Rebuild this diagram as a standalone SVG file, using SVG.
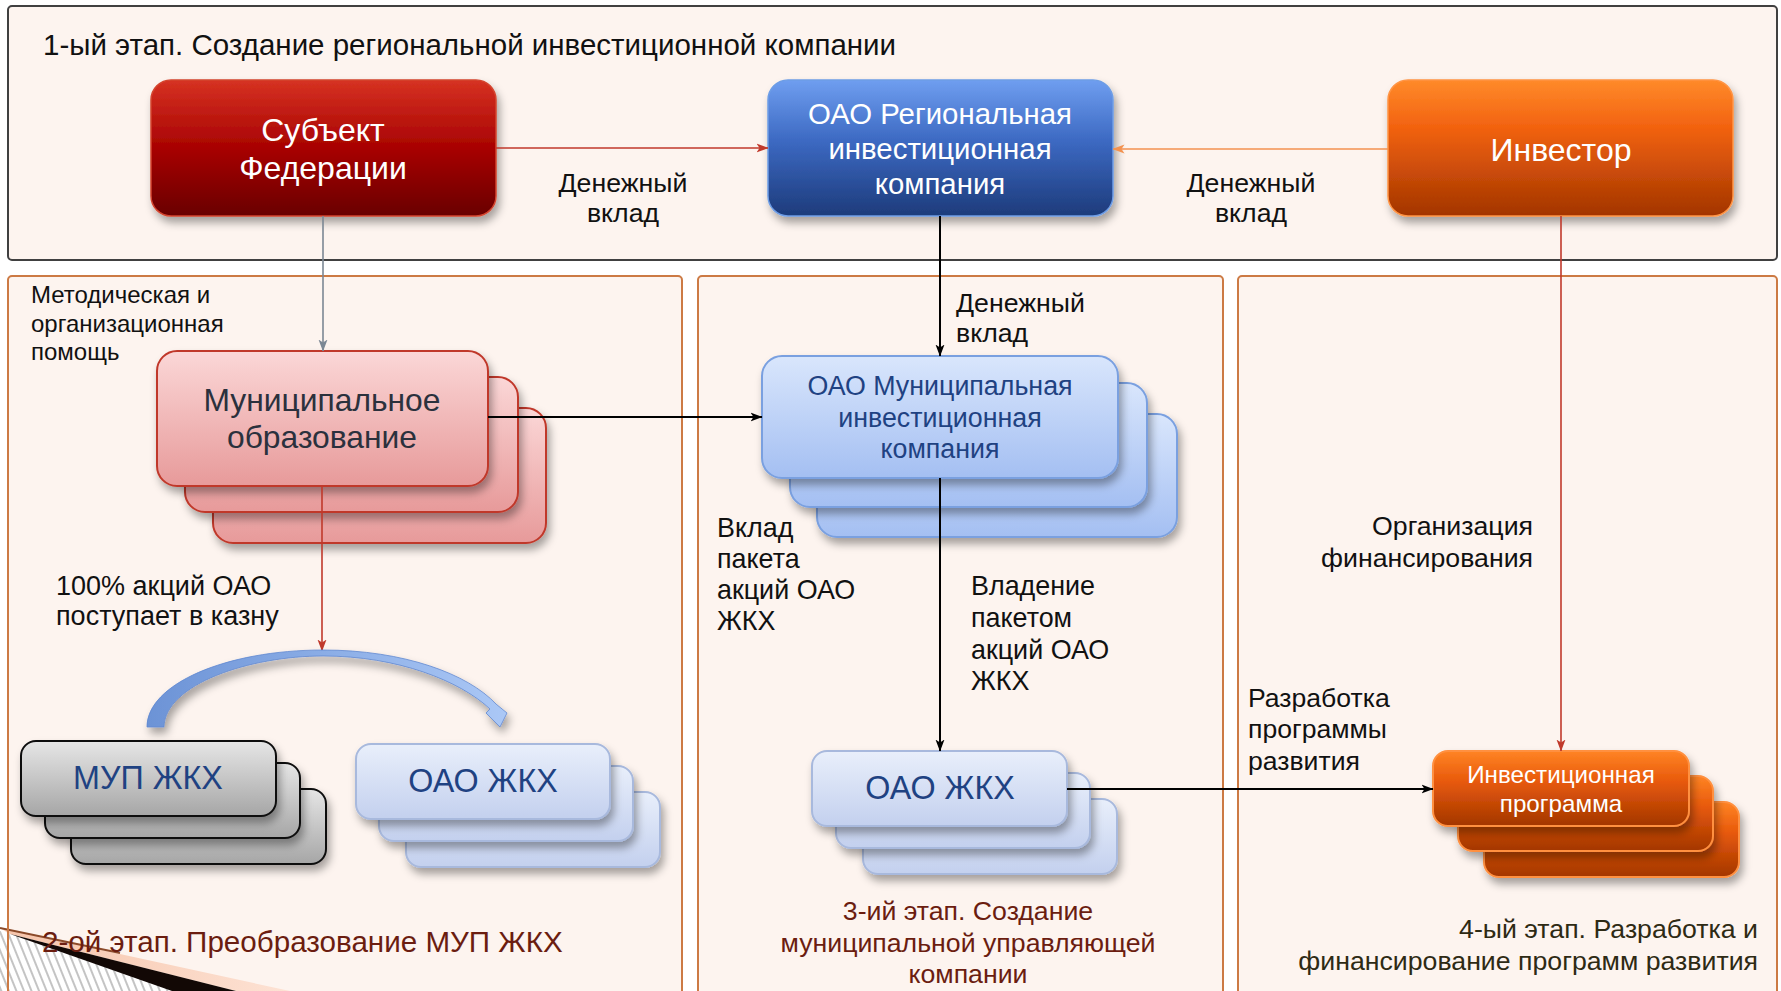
<svg xmlns="http://www.w3.org/2000/svg" width="1781" height="991" viewBox="0 0 1781 991">
<defs>
<style>
text{font-family:"Liberation Sans",Arial,sans-serif;fill:#111}
.panelTop{fill:#fdf4ef;stroke:#404040;stroke-width:2}
.panel{fill:#fdf4ef;stroke:#cc7a44;stroke-width:2}
.w{fill:#fff}
.dk{fill:#1f4282}
.mun{fill:#2b313d}
.stage{fill:#6b1d10}
.stage4{fill:#2e2a14}
.conn{fill:none}
</style>
<linearGradient id="gRed" x1="0" y1="0" x2="0" y2="1"><stop offset="0" stop-color="#d63222"/><stop offset="0.5" stop-color="#a80302"/><stop offset="1" stop-color="#690000"/></linearGradient>
<linearGradient id="gBlue" x1="0" y1="0" x2="0" y2="1"><stop offset="0" stop-color="#6f9ef0"/><stop offset="0.45" stop-color="#3c69c2"/><stop offset="1" stop-color="#1d3b7b"/></linearGradient>
<linearGradient id="gOr" x1="0" y1="0" x2="0" y2="1"><stop offset="0" stop-color="#ff8a2a"/><stop offset="0.35" stop-color="#f26210"/><stop offset="1" stop-color="#a33500"/></linearGradient>
<linearGradient id="gPink" x1="0" y1="0" x2="0" y2="1"><stop offset="0" stop-color="#fbd7d7"/><stop offset="1" stop-color="#e79a9a"/></linearGradient>
<linearGradient id="gLB" x1="0" y1="0" x2="0" y2="1"><stop offset="0" stop-color="#d9e6fc"/><stop offset="1" stop-color="#a4bff2"/></linearGradient>
<linearGradient id="gPB" x1="0" y1="0" x2="0" y2="1"><stop offset="0" stop-color="#e9effb"/><stop offset="1" stop-color="#c3d0ee"/></linearGradient>
<linearGradient id="gGray" x1="0" y1="0" x2="0" y2="1"><stop offset="0" stop-color="#e6e6e6"/><stop offset="1" stop-color="#a6a6a6"/></linearGradient>
<linearGradient id="gOr2" x1="0" y1="0" x2="0" y2="1"><stop offset="0" stop-color="#ff8424"/><stop offset="0.4" stop-color="#e85a0c"/><stop offset="1" stop-color="#a33600"/></linearGradient>
<linearGradient id="gArc" x1="0" y1="0" x2="1" y2="0"><stop offset="0" stop-color="#6c93d6"/><stop offset="1" stop-color="#abc8f6"/></linearGradient>
<linearGradient id="gPeach" x1="0" y1="0" x2="1" y2="0"><stop offset="0" stop-color="#f6c4aa"/><stop offset="1" stop-color="#fde2d4"/></linearGradient>
<pattern id="hatch" width="7" height="7" patternUnits="userSpaceOnUse" patternTransform="rotate(-22)"><rect width="7" height="7" fill="#fff"/><line x1="1" y1="0" x2="1" y2="7" stroke="#8a8a8a" stroke-width="1"/></pattern>
<filter id="sh" x="-10%" y="-10%" width="130%" height="140%"><feDropShadow dx="3" dy="6" stdDeviation="4" flood-color="#000" flood-opacity="0.35"/></filter>
<marker id="aRed" viewBox="0 0 12 10" refX="11.5" refY="5" markerWidth="12" markerHeight="10" markerUnits="userSpaceOnUse" orient="auto"><path d="M0,0.5 L12,5 L0,9.5 L3,5 Z" fill="#c0392b"/></marker>
<marker id="aOr" viewBox="0 0 12 10" refX="11.5" refY="5" markerWidth="12" markerHeight="10" markerUnits="userSpaceOnUse" orient="auto"><path d="M0,0.5 L12,5 L0,9.5 L3,5 Z" fill="#f39250"/></marker>
<marker id="aBlk" viewBox="0 0 12 10" refX="11.5" refY="5" markerWidth="12" markerHeight="10" markerUnits="userSpaceOnUse" orient="auto"><path d="M0,0.5 L12,5 L0,9.5 L3,5 Z" fill="#000"/></marker>
<marker id="aGray" viewBox="0 0 12 10" refX="11.5" refY="5" markerWidth="12" markerHeight="10" markerUnits="userSpaceOnUse" orient="auto"><path d="M0,0.5 L12,5 L0,9.5 L3,5 Z" fill="#7b8794"/></marker>
</defs>
<rect width="1781" height="991" fill="#fff"/>

<g id="panel1">
<rect class="panelTop" x="8" y="6" width="1769" height="254" rx="4"/>
<text x="43" y="55" font-size="29.5">1-ый этап. Создание региональной инвестиционной компании</text>
</g>
<g id="panel2">
<rect class="panel" x="8" y="276" width="674" height="740" rx="4"/>
</g>
<g id="panel3">
<rect class="panel" x="698" y="276" width="525" height="740" rx="4"/>
</g>
<g id="panel4">
<rect class="panel" x="1238" y="276" width="539" height="740" rx="4"/>
</g>

<g id="decoration">
<path d="M0,931 L40,940 L178,991 L0,991 Z" fill="url(#hatch)"/>
<path d="M0,928 L290,991 L236,991 L10,934 Z" fill="url(#gPeach)"/>
<path d="M10,934 L236,991 L172,991 Z" fill="#120805"/>
<path d="M0,928 L120,953" stroke="#8b4a2a" stroke-width="2"/>
<line x1="8" y1="925" x2="8" y2="991" stroke="#cc7a44" stroke-width="2"/>
</g>

<g id="subject">
<rect x="151" y="80" width="345" height="136" rx="20" fill="url(#gRed)" stroke="#d4442f" stroke-width="1.5" filter="url(#sh)"/>
<text class="w" x="323" y="141" font-size="32" text-anchor="middle">Субъект</text>
<text class="w" x="323" y="179" font-size="32" text-anchor="middle">Федерации</text>
</g>
<g id="regional">
<rect x="768" y="80" width="345" height="136" rx="20" fill="url(#gBlue)" stroke="#6d9de6" stroke-width="1.5" filter="url(#sh)"/>
<text class="w" x="940" y="124" font-size="29.4" text-anchor="middle">ОАО Региональная</text>
<text class="w" x="940" y="159" font-size="29.4" text-anchor="middle">инвестиционная</text>
<text class="w" x="940" y="194" font-size="29.4" text-anchor="middle">компания</text>
</g>
<g id="investor">
<rect x="1388" y="80" width="345" height="136" rx="20" fill="url(#gOr)" stroke="#ff9444" stroke-width="1.5" filter="url(#sh)"/>
<text class="w" x="1561" y="161" font-size="32" text-anchor="middle">Инвестор</text>
</g>

<g id="municipal">
<rect x="213" y="408" width="333" height="135" rx="20" fill="url(#gPink)" stroke="#c0392b" stroke-width="2" filter="url(#sh)"/>
<rect x="185" y="377" width="333" height="135" rx="20" fill="url(#gPink)" stroke="#c0392b" stroke-width="2" filter="url(#sh)"/>
<rect x="157" y="351" width="331" height="135" rx="20" fill="url(#gPink)" stroke="#c0392b" stroke-width="2" filter="url(#sh)"/>
<text class="mun" x="322" y="411" font-size="31.8" text-anchor="middle">Муниципальное</text>
<text class="mun" x="322" y="448" font-size="31.8" text-anchor="middle">образование</text>
</g>

<g id="munInvest">
<rect x="817" y="414" width="360" height="123" rx="20" fill="url(#gLB)" stroke="#7aa0e0" stroke-width="2" filter="url(#sh)"/>
<rect x="790" y="383" width="357" height="124" rx="20" fill="url(#gLB)" stroke="#7aa0e0" stroke-width="2" filter="url(#sh)"/>
<rect x="762" y="356" width="356" height="122" rx="20" fill="url(#gLB)" stroke="#7aa0e0" stroke-width="2" filter="url(#sh)"/>
<text class="dk" x="940" y="395" font-size="26.8" text-anchor="middle">ОАО Муниципальная</text>
<text class="dk" x="940" y="427" font-size="26.8" text-anchor="middle">инвестиционная</text>
<text class="dk" x="940" y="458" font-size="26.8" text-anchor="middle">компания</text>
</g>

<g id="mupZhkh">
<rect x="71" y="789" width="255" height="75" rx="15" fill="url(#gGray)" stroke="#111" stroke-width="2" filter="url(#sh)"/>
<rect x="45" y="763" width="255" height="75" rx="15" fill="url(#gGray)" stroke="#111" stroke-width="2" filter="url(#sh)"/>
<rect x="21" y="741" width="255" height="75" rx="15" fill="url(#gGray)" stroke="#111" stroke-width="2" filter="url(#sh)"/>
<text class="dk" x="148" y="789" font-size="32.3" text-anchor="middle">МУП ЖКХ</text>
</g>

<g id="oaoZhkh1">
<rect x="406" y="792" width="254" height="75" rx="15" fill="url(#gPB)" stroke="#a8b9dd" stroke-width="2" filter="url(#sh)"/>
<rect x="379" y="766" width="254" height="75" rx="15" fill="url(#gPB)" stroke="#a8b9dd" stroke-width="2" filter="url(#sh)"/>
<rect x="356" y="744" width="254" height="75" rx="15" fill="url(#gPB)" stroke="#a8b9dd" stroke-width="2" filter="url(#sh)"/>
<text class="dk" x="483" y="792" font-size="32.3" text-anchor="middle">ОАО ЖКХ</text>
</g>

<g id="oaoZhkh2">
<rect x="863" y="799" width="254" height="75" rx="15" fill="url(#gPB)" stroke="#a8b9dd" stroke-width="2" filter="url(#sh)"/>
<rect x="836" y="773" width="254" height="75" rx="15" fill="url(#gPB)" stroke="#a8b9dd" stroke-width="2" filter="url(#sh)"/>
<rect x="812" y="751" width="255" height="75" rx="15" fill="url(#gPB)" stroke="#a8b9dd" stroke-width="2" filter="url(#sh)"/>
<text class="dk" x="940" y="799" font-size="32.3" text-anchor="middle">ОАО ЖКХ</text>
</g>

<g id="investProgram">
<rect x="1484" y="802" width="255" height="75" rx="15" fill="url(#gOr2)" stroke="#ff9040" stroke-width="2" filter="url(#sh)"/>
<rect x="1458" y="776" width="255" height="75" rx="15" fill="url(#gOr2)" stroke="#ff9040" stroke-width="2" filter="url(#sh)"/>
<rect x="1433" y="751" width="256" height="75" rx="15" fill="url(#gOr2)" stroke="#ff9040" stroke-width="2" filter="url(#sh)"/>
<text class="w" x="1561" y="783" font-size="24.2" text-anchor="middle">Инвестиционная</text>
<text class="w" x="1561" y="812" font-size="24.2" text-anchor="middle">программа</text>
</g>

<g id="connectors">
<line class="conn" x1="496" y1="148" x2="768" y2="148" stroke="#c0392b" stroke-width="1.6" marker-end="url(#aRed)"/>
<line class="conn" x1="1388" y1="149" x2="1113" y2="149" stroke="#f39250" stroke-width="1.6" marker-end="url(#aOr)"/>
<line class="conn" x1="323" y1="216" x2="323" y2="351" stroke="#7b8794" stroke-width="1.6" marker-end="url(#aGray)"/>
<line class="conn" x1="940" y1="216" x2="940" y2="356" stroke="#000" stroke-width="2" marker-end="url(#aBlk)"/>
<line class="conn" x1="1561" y1="216" x2="1561" y2="751" stroke="#c0392b" stroke-width="1.6" marker-end="url(#aRed)"/>
<line class="conn" x1="488" y1="417" x2="762" y2="417" stroke="#000" stroke-width="2" marker-end="url(#aBlk)"/>
<line class="conn" x1="322" y1="486" x2="322" y2="651" stroke="#c0392b" stroke-width="1.6" marker-end="url(#aRed)"/>
<line class="conn" x1="940" y1="478" x2="940" y2="751" stroke="#000" stroke-width="2" marker-end="url(#aBlk)"/>
<line class="conn" x1="1067" y1="789" x2="1433" y2="789" stroke="#000" stroke-width="2" marker-end="url(#aBlk)"/>
<path d="M147,727 C147,684 226,650 323,650 C404,650 468,674 496,704 L507,713 L500,727 L486,713 L490,709 C460,681 398,656 323,656 C250,656 165,684 164,727 Z" fill="url(#gArc)" stroke="#5f88d0" stroke-width="0.8" filter="url(#sh)"/>
</g>

<g id="labels">
<text x="623" y="192" font-size="26.7" text-anchor="middle">Денежный</text>
<text x="623" y="222" font-size="26.7" text-anchor="middle">вклад</text>
<text x="1251" y="192" font-size="26.7" text-anchor="middle">Денежный</text>
<text x="1251" y="222" font-size="26.7" text-anchor="middle">вклад</text>
<text x="31" y="303" font-size="24">Методическая и</text>
<text x="31" y="332" font-size="24">организационная</text>
<text x="31" y="360" font-size="24">помощь</text>
<text x="56" y="595" font-size="27">100% акций ОАО</text>
<text x="56" y="625" font-size="27">поступает в казну</text>
<text class="stage" x="42" y="952" font-size="29.6">2-ой этап. Преобразование МУП ЖКХ</text>
<text x="956" y="312" font-size="26.7">Денежный</text>
<text x="956" y="342" font-size="26.7">вклад</text>
<text x="717" y="537" font-size="26.9">Вклад</text>
<text x="717" y="568" font-size="26.9">пакета</text>
<text x="717" y="599" font-size="26.9">акций ОАО</text>
<text x="717" y="630" font-size="26.9">ЖКХ</text>
<text x="971" y="595" font-size="26.9">Владение</text>
<text x="971" y="627" font-size="26.9">пакетом</text>
<text x="971" y="659" font-size="26.9">акций ОАО</text>
<text x="971" y="690" font-size="26.9">ЖКХ</text>
<text class="stage" x="968" y="920" font-size="26.7" text-anchor="middle">3-ий этап. Создание</text>
<text class="stage" x="968" y="952" font-size="26.7" text-anchor="middle">муниципальной управляющей</text>
<text class="stage" x="968" y="983" font-size="26.7" text-anchor="middle">компании</text>
<text x="1533" y="535" font-size="26.7" text-anchor="end">Организация</text>
<text x="1533" y="567" font-size="26.7" text-anchor="end">финансирования</text>
<text x="1248" y="707" font-size="26.6">Разработка</text>
<text x="1248" y="738" font-size="26.6">программы</text>
<text x="1248" y="770" font-size="26.6">развития</text>
<text class="stage4" x="1758" y="938" font-size="26.7" text-anchor="end">4-ый этап. Разработка и</text>
<text class="stage4" x="1758" y="970" font-size="26.7" text-anchor="end">финансирование программ развития</text>
</g>
</svg>
